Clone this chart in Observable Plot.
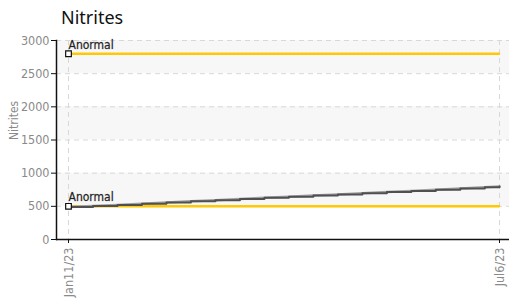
<!DOCTYPE html>
<html>
<head>
<meta charset="utf-8">
<script src="https://cdn.jsdelivr.net/npm/d3@7"></script>
<script src="https://cdn.jsdelivr.net/npm/@observablehq/plot@0.6"></script>
<style>
  body { margin: 0; background: #fff; }
  #title { font-family: "Noto Sans", "DejaVu Sans", sans-serif; font-size: 18px; color: #111; height: 32px; line-height: 34px; padding-left: 61px; box-sizing: border-box; }
  #chart svg text { font-stretch: condensed; }
</style>
</head>
<body>
<div id="title">Nitrites</div>
<div id="chart"></div>
<script>
// Data
const dates = ["2023-01-11","2023-01-21","2023-01-31","2023-02-10","2023-02-20","2023-03-02","2023-03-12","2023-03-22","2023-04-01","2023-04-11","2023-04-21","2023-05-01","2023-05-11","2023-05-21","2023-05-31","2023-06-10","2023-06-20","2023-06-30","2023-07-06"];
const values = [490, 505, 520, 540, 558, 575, 592, 610, 628, 645, 662, 680, 697, 715, 733, 750, 768, 786, 800];
const thresholdLabels = ["Anormal", "Anormal"];
const thresholdValues = [2800, 500];
const xTickDates = ["2023-01-11", "2023-07-06"];
const yTicks = [0, 500, 1000, 1500, 2000, 2500, 3000];
const bandLows = [2500, 1500, 500];
const bandHighs = [3000, 2000, 1000];

const series = dates.map((d, i) => ({date: new Date(d), value: values[i]}));
const start = new Date(xTickDates[0]);
const end = new Date(xTickDates[1]);
const thresholds = thresholdValues.flatMap((v, i) => [
  {date: start, value: v, key: i, label: thresholdLabels[i]},
  {date: end, value: v, key: i, label: thresholdLabels[i]}
]);
const thresholdStarts = thresholdValues.map((v, i) => ({date: start, value: v, label: thresholdLabels[i]}));
const bands = bandLows.map((lo, i) => ({y1: lo, y2: bandHighs[i]}));
const tickFont = "'DejaVu Sans Condensed', 'DejaVu Sans', sans-serif";

const chart = Plot.plot({
  width: 509,
  height: 269,
  marginLeft: 56,
  marginRight: 0,
  marginTop: 8,
  marginBottom: 62,
  style: {fontFamily: tickFont, fontSize: "12px", background: "#fff"},
  x: {type: "utc", domain: [start, end], range: [68, 499]},
  y: {domain: [0, 3000]},
  marks: [
    Plot.rectY(bands, {y1: "y1", y2: "y2", fill: "#f7f7f7"}),
    Plot.gridY(yTicks.filter(d => d > 0), {stroke: "#d8d8d8", strokeOpacity: 1, strokeDasharray: "5,4", strokeWidth: 1}),
    Plot.gridX(xTickDates.map(d => new Date(d)), {stroke: "#d8d8d8", strokeOpacity: 1, strokeDasharray: "5,4", strokeWidth: 1}),
    Plot.axisY(yTicks, {tickSize: 5, tickPadding: 2, stroke: "#111", color: "#8a8a8a", fontSize: 12.5, label: null, tickFormat: d => String(d)}),
    Plot.text(["Nitrites"], {frameAnchor: "left", dx: -42, rotate: -90, fill: "#8a8a8a", fontSize: 12}),
    Plot.axisX(xTickDates.map(d => new Date(d)), {tickSize: 4, tickPadding: 4, tickRotate: -90, stroke: "#111", color: "#8a8a8a", fontSize: 12.5, label: null, tickFormat: d3.utcFormat("%b%-d/%y")}),
    Plot.ruleY([0], {stroke: "#111", strokeWidth: 1.5}),
    Plot.frame({anchor: "left", stroke: "#111", strokeWidth: 1.5}),
    Plot.line(thresholds, {x: "date", y: "value", z: "key", stroke: "#ffc800", strokeWidth: 2.5, strokeDasharray: "2.5,1.5"}),
    Plot.line(series, {x: "date", y: "value", stroke: "#a0a0a0", strokeWidth: 2.5}),
    Plot.line(series, {x: "date", y: "value", stroke: "#505050", strokeWidth: 2, curve: "step-after"}),
    Plot.dot(thresholdStarts, {x: "date", y: "value", symbol: "square", r: 3.2, fill: "#fff", stroke: "#111", strokeWidth: 1.2}),
    Plot.text(thresholdStarts, {x: "date", y: "value", text: "label", textAnchor: "start", dx: 0, dy: -9, fill: "#222", stroke: "#aaa", strokeWidth: 0.5, fontSize: 12})
  ]
});
document.getElementById("chart").appendChild(chart);
</script>
</body>
</html>
